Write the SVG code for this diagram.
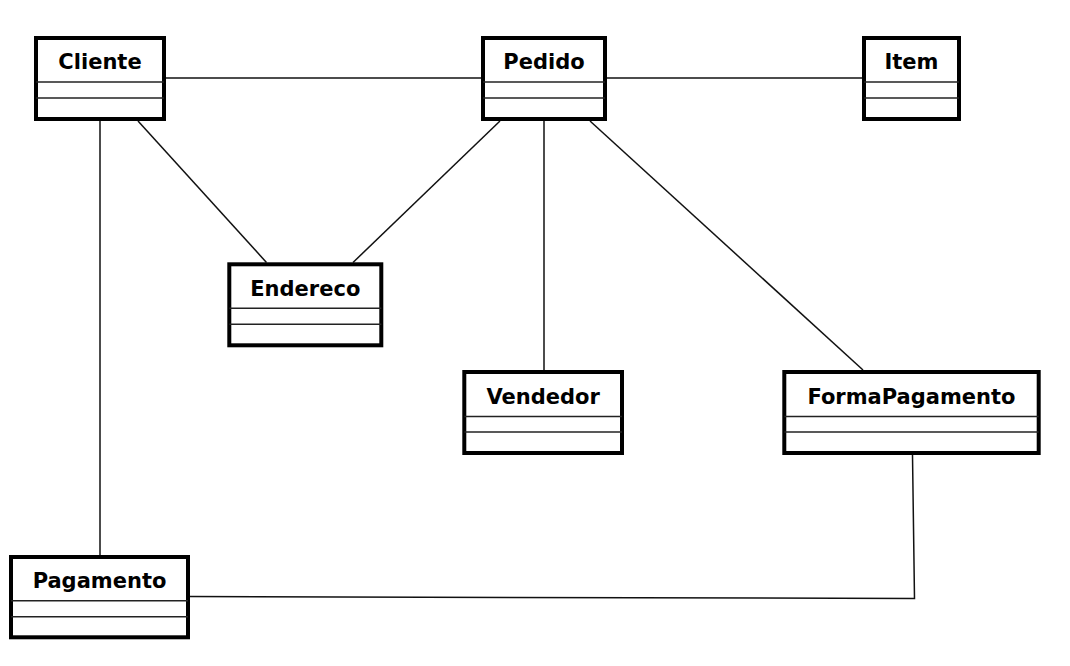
<svg xmlns="http://www.w3.org/2000/svg" width="1070" height="666" viewBox="0 0 1070 666">
<style>
.box{fill:#fff;stroke:#000;stroke-width:4}
.div{stroke:#222;stroke-width:1.5}
.lbl{font-family:"DejaVu Sans",sans-serif;font-weight:bold;font-size:21px;text-anchor:middle;fill:#000}
.conn{fill:none;stroke:#111;stroke-width:1.5}
</style>
<rect width="1070" height="666" fill="#fff"/>
<g id="connectors">
<line class="conn" x1="166" y1="78" x2="481" y2="78"/>
<line class="conn" x1="607" y1="78" x2="862" y2="78"/>
<line class="conn" x1="100" y1="121" x2="100" y2="555"/>
<line class="conn" x1="138" y1="121" x2="266.5" y2="262.5"/>
<line class="conn" x1="500" y1="121" x2="353" y2="262.5"/>
<line class="conn" x1="544" y1="121" x2="544" y2="370"/>
<line class="conn" x1="590" y1="121" x2="863" y2="370"/>
<polyline class="conn" points="190,596.5 914.5,598.5 912.5,455"/>
</g>
<g id="Cliente">
<rect class="box" x="36" y="38" width="128" height="81"/>
<line class="div" x1="36" y1="82" x2="164" y2="82"/>
<line class="div" x1="36" y1="98" x2="164" y2="98"/>
<text class="lbl" x="100" y="69">Cliente</text>
</g>
<g id="Pedido">
<rect class="box" x="483" y="38" width="122" height="81"/>
<line class="div" x1="483" y1="82" x2="605" y2="82"/>
<line class="div" x1="483" y1="98" x2="605" y2="98"/>
<text class="lbl" x="544" y="69">Pedido</text>
</g>
<g id="Item">
<rect class="box" x="864" y="38" width="95" height="81"/>
<line class="div" x1="864" y1="82" x2="959" y2="82"/>
<line class="div" x1="864" y1="98" x2="959" y2="98"/>
<text class="lbl" x="911.5" y="69">Item</text>
</g>
<g id="Endereco">
<rect class="box" x="229.3" y="264.3" width="152" height="81"/>
<line class="div" x1="229.3" y1="308.3" x2="381.3" y2="308.3"/>
<line class="div" x1="229.3" y1="324.3" x2="381.3" y2="324.3"/>
<text class="lbl" x="305.3" y="296">Endereco</text>
</g>
<g id="Vendedor">
<rect class="box" x="464.3" y="372" width="157.7" height="81"/>
<line class="div" x1="464.3" y1="416.5" x2="622" y2="416.5"/>
<line class="div" x1="464.3" y1="432" x2="622" y2="432"/>
<text class="lbl" x="543.2" y="404">Vendedor</text>
</g>
<g id="FormaPagamento">
<rect class="box" x="784.3" y="372" width="254.4" height="81"/>
<line class="div" x1="784.3" y1="416.5" x2="1038.7" y2="416.5"/>
<line class="div" x1="784.3" y1="432" x2="1038.7" y2="432"/>
<text class="lbl" x="911.5" y="404">FormaPagamento</text>
</g>
<g id="Pagamento">
<rect class="box" x="11" y="557" width="177" height="80.3"/>
<line class="div" x1="11" y1="600.7" x2="188" y2="600.7"/>
<line class="div" x1="11" y1="616.7" x2="188" y2="616.7"/>
<text class="lbl" x="99.5" y="587.5">Pagamento</text>
</g>
</svg>
